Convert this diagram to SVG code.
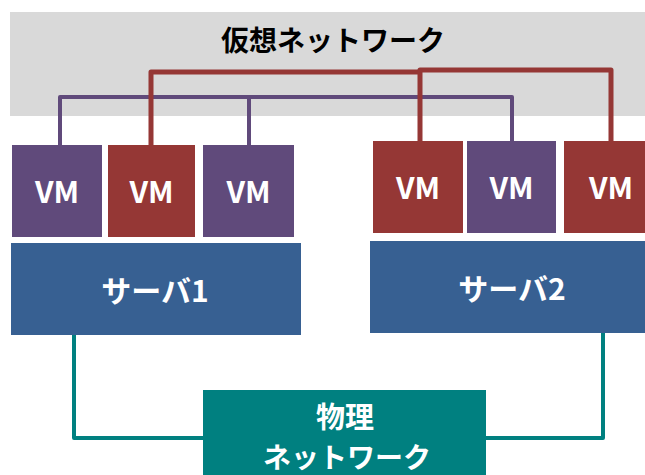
<svg xmlns="http://www.w3.org/2000/svg" width="645" height="475" viewBox="0 0 645 475">
<style>
.t{font-family:"Noto Sans CJK JP","Noto Sans",sans-serif;font-weight:bold;text-anchor:middle}
.w{fill:#FFFFFF}
.vm{font-size:30px}
.purple{fill:#604A7B}
.red{fill:#953735}
.srv{fill:#376092}
.phy{fill:#008080}
.lp{stroke:#604A7B;stroke-width:4;fill:none;stroke-linejoin:round}
.lr{stroke:#953735;stroke-width:5;fill:none;stroke-linejoin:round}
.lt{stroke:#008080;stroke-width:4;fill:none;stroke-linejoin:round}
</style>
<g id="virtual-network">
<rect x="10" y="12" width="635" height="104" fill="#D9D9D9"/>
<text class="t" x="333" y="51" font-size="28" fill="#000000">仮想ネットワーク</text>
</g>
<g id="connectors">
<path class="lp" d="M60,145 V97 H512 V141"/>
<path class="lp" d="M249,145 V97"/>
<path class="lr" d="M151,145 V72 H420 V141"/>
<path class="lr" d="M420,72 V70 H611 V141"/>
<path class="lt" d="M74,335 V438 H203"/>
<path class="lt" d="M603,333 V438 H486"/>
</g>
<g id="vm1"><rect class="purple" x="12" y="145" width="90" height="92"/><text class="t w vm" x="57" y="203">VM</text></g>
<g id="vm2"><rect class="red" x="108" y="145" width="87" height="92"/><text class="t w vm" x="151.5" y="203">VM</text></g>
<g id="vm3"><rect class="purple" x="203" y="145" width="91" height="92"/><text class="t w vm" x="248.5" y="203">VM</text></g>
<g id="vm4"><rect class="red" x="373" y="141" width="90" height="92"/><text class="t w vm" x="418" y="199">VM</text></g>
<g id="vm5"><rect class="purple" x="467" y="141" width="89" height="92"/><text class="t w vm" x="511.5" y="199">VM</text></g>
<g id="vm6"><rect class="red" x="564" y="141" width="81" height="92"/><text class="t w vm" x="611" y="199">VM</text></g>
<g id="server1"><rect class="srv" x="11" y="243" width="290" height="92"/><text class="t w" x="155" y="302" font-size="30">サーバ1</text></g>
<g id="server2"><rect class="srv" x="370" y="241" width="275" height="92"/><text class="t w" x="512" y="300" font-size="30">サーバ2</text></g>
<g id="physical-network"><rect class="phy" x="203" y="390" width="283" height="85"/>
<text class="t w" x="345" y="428" font-size="29">物理</text>
<text class="t w" x="347" y="468" font-size="28">ネットワーク</text></g>
</svg>
